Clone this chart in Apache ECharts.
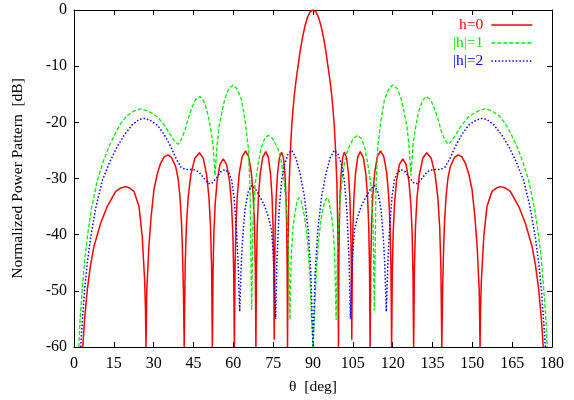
<!DOCTYPE html>
<html>
<head>
<meta charset="utf-8">
<script src="https://cdn.jsdelivr.net/npm/echarts@6/dist/echarts.min.js"></script>
<style>html,body{margin:0;padding:0;background:#fff}#c{width:574px;height:400px}</style>
</head>
<body>
<div id="c"></div>
<script>
// theta [deg] and normalized power [dB]
const redTheta = [3.3,4.0,5.0,6.2,7.5,10.0,12.5,15.7,17.5,19.5,21.0,22.6,24.5,25.7,26.6,26.9,27.1,
 27.4,28.2,29.0,30.1,31.3,32.6,34.0,35.4,36.8,38.3,39.2,39.9,40.5,40.8,41.2,41.5,
 41.61,41.84,42.30,42.98,44.01,45.49,47.2,48.67,49.94,50.83,51.41,51.81,52.00,52.1,
 52.18,52.35,52.67,53.17,53.90,54.97,56.2,57.46,58.55,59.31,59.81,60.15,60.32,60.4,
 60.48,60.65,60.99,61.49,62.25,63.34,64.6,65.77,66.78,67.49,67.95,68.27,68.42,68.5,
 68.57,68.72,69.02,69.46,70.13,71.09,72.2,73.16,73.99,74.57,74.95,75.21,75.34,75.4,
 75.46,75.57,75.79,76.13,76.63,77.36,78.2,78.86,79.43,79.83,80.09,80.27,80.36,80.4,
 80.7,81.0,81.5,82.0,82.5,83.0,83.5,84.0,84.5,85.0,86.0,87.0,88.0,89.0,90.0,
 91.0,92.0,93.0,94.0,95.0,95.5,96.0,96.5,97.0,97.5,98.0,98.5,99.0,99.3,99.6,
 99.64,99.73,99.91,100.17,100.57,101.14,101.8,102.64,103.37,103.87,104.21,104.43,104.54,104.6,
 104.66,104.79,105.05,105.43,106.01,106.84,107.8,108.91,109.87,110.54,110.98,111.28,111.43,111.5,
 111.58,111.73,112.05,112.51,113.22,114.23,115.4,116.66,117.75,118.51,119.01,119.35,119.52,119.6,
 119.68,119.85,120.19,120.69,121.45,122.54,123.8,125.03,126.10,126.83,127.33,127.65,127.82,127.9,
 128.0,128.19,128.59,129.17,130.06,131.33,132.8,134.51,135.99,137.02,137.70,138.16,138.39,138.5,
 138.8,139.2,139.5,140.1,140.8,141.7,143.2,144.6,146.0,147.4,148.7,149.9,151.0,151.8,152.6,152.9,
 153.1,153.4,154.3,155.5,157.4,159.0,160.5,162.5,164.3,167.5,170.0,172.5,173.8,175.0,176.0,176.7];
const redDb = [-60,-55,-49.8,-45.5,-42.1,-38,-35,-32.3,-31.7,-31.45,-31.7,-32.3,-35,-40.4,-48.1,-53,-60,
 -50,-42.1,-37,-32,-29.3,-27.3,-26.1,-25.8,-26.3,-27.9,-30,-33.2,-38,-42.1,-50,-60,
 -55.4,-45.9,-38.6,-33.4,-29.3,-26.4,-25.4,-26.4,-29.3,-33.4,-38.6,-45.9,-55.4,-60,
 -56.5,-47.0,-39.7,-34.5,-30.4,-27.5,-26.5,-27.5,-30.4,-34.5,-39.7,-47.0,-56.5,-60,
 -55.1,-45.6,-38.3,-33.1,-29.0,-26.1,-25.1,-26.1,-29.0,-33.1,-38.3,-45.6,-55.1,-60,
 -55.2,-45.7,-38.4,-33.2,-29.1,-26.2,-25.2,-26.2,-29.1,-33.2,-38.4,-45.7,-55.2,-58.7,
 -55.3,-45.8,-38.5,-33.3,-29.2,-26.3,-25.3,-26.3,-29.2,-33.3,-38.5,-45.8,-55.3,-60,
 -38,-31,-25,-20.5,-17.5,-15,-13,-11.2,-9.6,-7.8,-5.0,-2.8,-1.2,-0.3,0,
 -0.3,-1.2,-2.8,-5.0,-7.8,-9.6,-11.2,-13,-15,-17.5,-20.5,-25,-31,-38,-60,
 -55.3,-45.8,-38.5,-33.3,-29.2,-26.3,-25.3,-26.3,-29.2,-33.3,-38.5,-45.8,-55.3,-58.7,
 -55.2,-45.7,-38.4,-33.2,-29.1,-26.2,-25.2,-26.2,-29.1,-33.2,-38.4,-45.7,-55.2,-60,
 -55.1,-45.6,-38.3,-33.1,-29.0,-26.1,-25.1,-26.1,-29.0,-33.1,-38.3,-45.6,-55.1,-60,
 -56.5,-47.0,-39.7,-34.5,-30.4,-27.5,-26.5,-27.5,-30.4,-34.5,-39.7,-47.0,-56.5,-60,
 -55.4,-45.9,-38.6,-33.4,-29.3,-26.4,-25.4,-26.4,-29.3,-33.4,-38.6,-45.9,-55.4,-60,
 -50,-42.1,-38,-33.2,-30,-27.9,-26.3,-25.8,-26.1,-27.3,-29.3,-32,-37,-42.1,-50,-60,
 -53,-48.1,-40.4,-35,-32.3,-31.7,-31.45,-31.7,-32.3,-35,-38,-42.1,-45.5,-49.8,-55,-60];

const greenTheta = [1.8,2.3,3.1,4.0,5.0,6.5,8.8,11.0,13.2,15.5,17.6,20.0,22.5,25.1,28.0,31.4,34.0,36.0,37.8,39.2,
 40.5,41.8,43.0,44.3,45.8,47.4,48.8,50.0,50.6,51.6,52.4,53.1,53.8,54.6,55.6,56.8,58.3,60.0,61.6,63.1,
 64.4,65.6,66.3,66.9,67.4,68.2,69.4,70.5,71.8,73.2,74.8,76.0,76.9,78.0,79.0,80.0,80.8,81.3,81.8,82.5,
 83.2,84.0,84.7,85.5,86.3,87.0,88.0,88.8,89.4,90.0,
 90.6,91.2,92.0,93.0,93.7,94.5,95.3,96.0,96.8,97.5,98.2,98.7,99.2,100.0,101.0,102.0,103.1,104.0,105.2,106.8,
 108.2,109.5,110.6,111.8,112.6,113.1,113.7,114.4,115.6,116.9,118.4,120.0,121.7,123.2,124.4,125.4,126.2,126.9,127.6,128.4,
 129.4,130.0,131.2,132.6,134.2,135.7,137.0,138.2,139.5,140.8,142.2,144.0,146.0,148.6,152.0,154.9,157.5,160.0,162.4,164.5,
 166.8,169.0,171.2,173.5,175.0,176.0,176.9,177.7,178.2];
const greenDb = [-60,-55,-49.8,-44.5,-40.4,-35.5,-30.3,-27,-24.3,-22,-20.2,-18.8,-18,-17.6,-18.0,-19.0,-20.5,-22,-23.3,-23.9,
 -23,-21.4,-19.3,-17.5,-15.9,-15.4,-16.2,-17.8,-19.0,-21.5,-24.3,-29.5,-24.5,-20.8,-18.4,-15.8,-14.0,-13.35,-14.2,-16.0,
 -19.6,-24.3,-32,-53.5,-38,-31,-27.3,-24.5,-22.9,-22.3,-22.9,-24.0,-24.8,-26.8,-30,-35,-43,-55.2,-44,-38.5,
 -36.2,-34,-33.4,-34,-35.5,-37.4,-41.5,-47,-54,-60,
 -54,-47,-41.5,-37.4,-35.5,-34,-33.4,-34,-36.2,-38.5,-44,-55.2,-43,-35,-30,-26.8,-24.8,-24.0,-22.9,-22.3,
 -22.9,-24.5,-27.3,-31,-38,-53.5,-32,-24.3,-19.6,-16.0,-14.2,-13.35,-14.0,-15.8,-18.4,-20.8,-24.5,-29.5,-24.3,-21.5,
 -19.0,-17.8,-16.2,-15.4,-15.9,-17.5,-19.3,-21.4,-23,-23.9,-23.3,-22,-20.5,-19.0,-18.0,-17.6,-18,-18.8,-20.2,-22,
 -24.3,-27,-30.3,-35.5,-40.4,-44.5,-49.8,-55,-60];

const blueTheta = [2.5,3.2,4.0,5.0,6.3,8.3,10.7,13.5,16.3,19.0,22.0,24.5,26.4,28.5,31.4,34.0,36.4,38.5,40.3,42.0,
 44.9,47.0,49.0,50.6,51.8,53.5,55.3,56.9,58.3,59.4,60.3,61.2,61.8,62.4,63.0,63.6,64.4,65.5,66.9,68.5,
 70.3,71.9,73.3,74.4,75.0,75.5,75.9,76.4,77.2,78.2,79.3,80.6,82.0,83.5,85.1,86.7,88.2,89.2,90.0,
 90.8,91.8,93.3,94.9,96.5,98.0,99.4,100.7,101.8,102.8,103.6,104.1,104.5,105.0,105.6,106.7,108.1,109.7,111.5,113.1,
 114.5,115.6,116.4,117.0,117.6,118.2,118.8,119.7,120.6,121.7,123.1,124.7,126.5,128.2,129.4,131.0,133.0,135.1,138.0,139.7,
 141.5,143.6,146.0,148.6,151.5,153.6,155.5,158.0,161.0,163.7,166.5,169.3,171.7,173.7,175.0,176.0,176.8,177.5];
const blueDb = [-60,-55,-49.8,-45,-40.4,-35,-30.3,-27,-24.3,-22.2,-20.4,-19.5,-19.3,-19.6,-20.5,-22.2,-24.3,-26.5,-28.0,-28.4,
 -28.4,-28.8,-30,-30.9,-30.9,-30,-28.8,-28.4,-29.0,-30.3,-33.5,-39.2,-45,-53.7,-45,-40,-35.5,-32.5,-31.2,-32,
 -33.5,-35.0,-37,-39.2,-43,-48,-55,-45,-36,-30.3,-27.5,-25.6,-25.0,-26.3,-29.1,-33,-39.2,-47,-60,
 -47,-39.2,-33,-29.1,-26.3,-25.0,-25.6,-27.5,-30.3,-36,-45,-55,-48,-43,-39.2,-37,-35.0,-33.5,-32,-31.2,
 -32.5,-35.5,-40,-45,-53.7,-45,-39.2,-33.5,-30.3,-29.0,-28.4,-28.8,-30,-30.9,-30.9,-30,-28.8,-28.4,-28.4,-28.0,
 -26.5,-24.3,-22.2,-20.5,-19.6,-19.3,-19.5,-20.4,-22.2,-24.3,-27,-30.3,-35,-40.4,-45,-49.8,-55,-60];

const seriesNames = ['h=0', '|h|=1', '|h|=2'];
const seriesColors = ['#ff0000', '#00ee00', '#0000ff'];

const pairs = (t, v) => t.map((x, i) => [x, v[i]]);
const font = 'Liberation Serif';

const chart = echarts.init(document.getElementById('c'), null, {renderer: 'canvas'});
const axisCommon = {
  type: 'value',
  axisLine: {show: true, onZero: false, lineStyle: {color: '#000', width: 1}},
  axisTick: {show: true, inside: true, length: 5, lineStyle: {color: '#000', width: 1}},
  splitLine: {show: false}
};
chart.setOption({
  animation: false,
  backgroundColor: '#fff',
  grid: {left: 74, right: 22, top: 10, bottom: 53, containLabel: false},
  xAxis: [
    Object.assign({}, axisCommon, {
      min: 0, max: 180, interval: 15, position: 'bottom',
      axisLabel: {color: '#000', fontFamily: font, fontSize: 16, margin: 9},
      name: 'θ  [deg]', nameLocation: 'middle', nameGap: 32,
      nameTextStyle: {color: '#000', fontFamily: font, fontSize: 15.5}
    }),
    Object.assign({}, axisCommon, {
      min: 0, max: 180, interval: 15, position: 'top', axisLabel: {show: false}
    })
  ],
  yAxis: [
    Object.assign({}, axisCommon, {
      min: -60, max: 0, interval: 10, position: 'left',
      axisLabel: {color: '#000', fontFamily: font, fontSize: 16, margin: 7},
      name: 'Normalized Power Pattern  [dB]', nameLocation: 'middle', nameGap: 48,
      nameTextStyle: {color: '#000', fontFamily: font, fontSize: 15.5}
    }),
    Object.assign({}, axisCommon, {
      min: -60, max: 0, interval: 10, position: 'right', axisLabel: {show: false}
    })
  ],
  legend: {
    orient: 'vertical', right: 36, top: 12, align: 'right',
    itemWidth: 41, itemHeight: 14, itemGap: 2,
    itemStyle: {opacity: 0},
    lineStyle: {width: 1.3},
    textStyle: {fontFamily: font, fontSize: 15.5, lineHeight: 14, padding: [0, 3, 0, 0]},
    data: seriesNames.map((n, i) => ({name: n, textStyle: {color: seriesColors[i]}}))
  },
  series: [
    {name: seriesNames[0], type: 'line', data: pairs(redTheta, redDb), symbol: 'none', clip: true,
     lineStyle: {color: seriesColors[0], width: 1.5, type: 'solid'}, itemStyle: {color: seriesColors[0]}},
    {name: seriesNames[1], type: 'line', data: pairs(greenTheta, greenDb), symbol: 'none', clip: true,
     lineStyle: {color: seriesColors[1], width: 1.3, type: [4, 2]}, itemStyle: {color: seriesColors[1]}},
    {name: seriesNames[2], type: 'line', data: pairs(blueTheta, blueDb), symbol: 'none', clip: true,
     lineStyle: {color: seriesColors[2], width: 1.5, type: [1.5, 2]}, itemStyle: {color: seriesColors[2]}}
  ]
});
</script>
</body>
</html>
